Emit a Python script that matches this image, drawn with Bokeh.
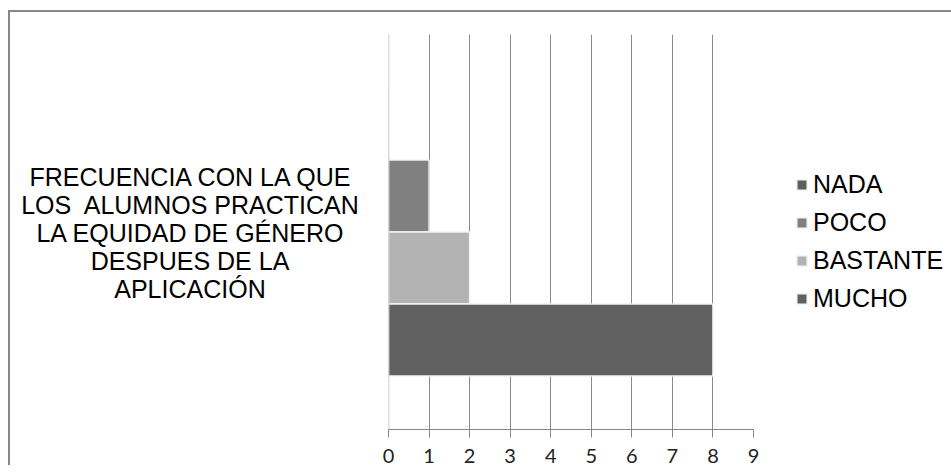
from bokeh.plotting import figure
from bokeh.layouts import row
from bokeh.models import (FactorRange, Range1d, LinearAxis, FixedTicker, Span,
                          Legend, LegendItem, Div, ColumnDataSource)
from bokeh.embed import file_html
from bokeh.resources import INLINE

category_lines = ["FRECUENCIA CON LA QUE", "LOS&nbsp; ALUMNOS PRACTICAN",
                  "LA EQUIDAD DE GÉNERO", "DESPUES DE LA", "APLICACIÓN"]
cat_key = "FRECUENCIA"
series = ["NADA", "POCO", "BASTANTE", "MUCHO"]
values = [0, 1, 2, 8]
colors = ["#5e5e5e", "#808080", "#b3b3b3", "#606060"]
x_ticks = [0, 1, 2, 3, 4, 5, 6, 7, 8, 9]

factors = [(cat_key, s) for s in reversed(series)]
y_range = FactorRange(factors=factors, factor_padding=0, group_padding=0,
                      range_padding=0.743, range_padding_units="absolute")

p = figure(frame_width=365, frame_height=395, x_range=Range1d(0, 9), y_range=y_range,
           output_backend="svg", toolbar_location=None, x_axis_location=None,
           y_axis_location=None, min_border_left=18, min_border_top=22,
           min_border_right=188, min_border_bottom=10, margin=0)
p.outline_line_color = None
p.background_fill_color = "white"
p.border_fill_color = "white"

# bars
renderers = []
for s, v, c in zip(series, values, colors):
    src = ColumnDataSource(dict(y=[(cat_key, s)], right=[v]))
    r = p.hbar(y="y", right="right", left=0, height=1.0, source=src,
               fill_color=c, line_color="#f4f4f4", line_width=1.5)
    renderers.append(r)

# x axis
xaxis = LinearAxis(ticker=FixedTicker(ticks=x_ticks))
xaxis.axis_line_color = "#878787"
xaxis.axis_line_width = 1
xaxis.major_tick_line_color = "#878787"
xaxis.major_tick_in = 0
xaxis.major_tick_out = 8
xaxis.minor_tick_line_color = None
xaxis.major_label_standoff = 11
xaxis.major_label_text_font = "Lato"
xaxis.major_label_text_font_size = "20px"
xaxis.major_label_text_color = "#222222"
p.add_layout(xaxis, "below")

p.xgrid.ticker = FixedTicker(ticks=x_ticks)
p.xgrid.grid_line_color = "#8a8a8a"
p.xgrid.grid_line_width = 1
p.ygrid.grid_line_color = None

# vertical (category) axis line at x = 0
p.add_layout(Span(location=0, dimension="height", line_color="#bdbdbd", line_width=1.5))

legend = Legend(items=[LegendItem(label=s, renderers=[r]) for s, r in zip(series, renderers)],
                location=(42, 116), orientation="vertical")
legend.glyph_width = 13
legend.glyph_height = 13
legend.label_text_font = "Liberation Sans"
legend.label_text_font_size = "25px"
legend.label_text_color = "#000000"
legend.label_standoff = 5
legend.spacing = 9
legend.padding = 0
legend.margin = 0
legend.border_line_color = None
legend.background_fill_alpha = 0
p.add_layout(legend, "right")

# category label (the single category of the vertical axis)
div = Div(text="<br>".join(category_lines), width=360, height=440, margin=0,
          styles={"text-align": "center", "font-family": "'Liberation Sans', Arial, sans-serif",
                  "font-size": "25px", "line-height": "28px", "color": "#000000",
                  "padding-top": "151px", "box-sizing": "border-box",
                  "white-space": "nowrap"})

layout = row(div, p, spacing=0,
             styles={"border-left": "2px solid #878787", "border-top": "2px solid #878787",
                     "margin-top": "10px", "margin-left": "8px"})

open("out.html", "w").write(file_html(layout, INLINE))
